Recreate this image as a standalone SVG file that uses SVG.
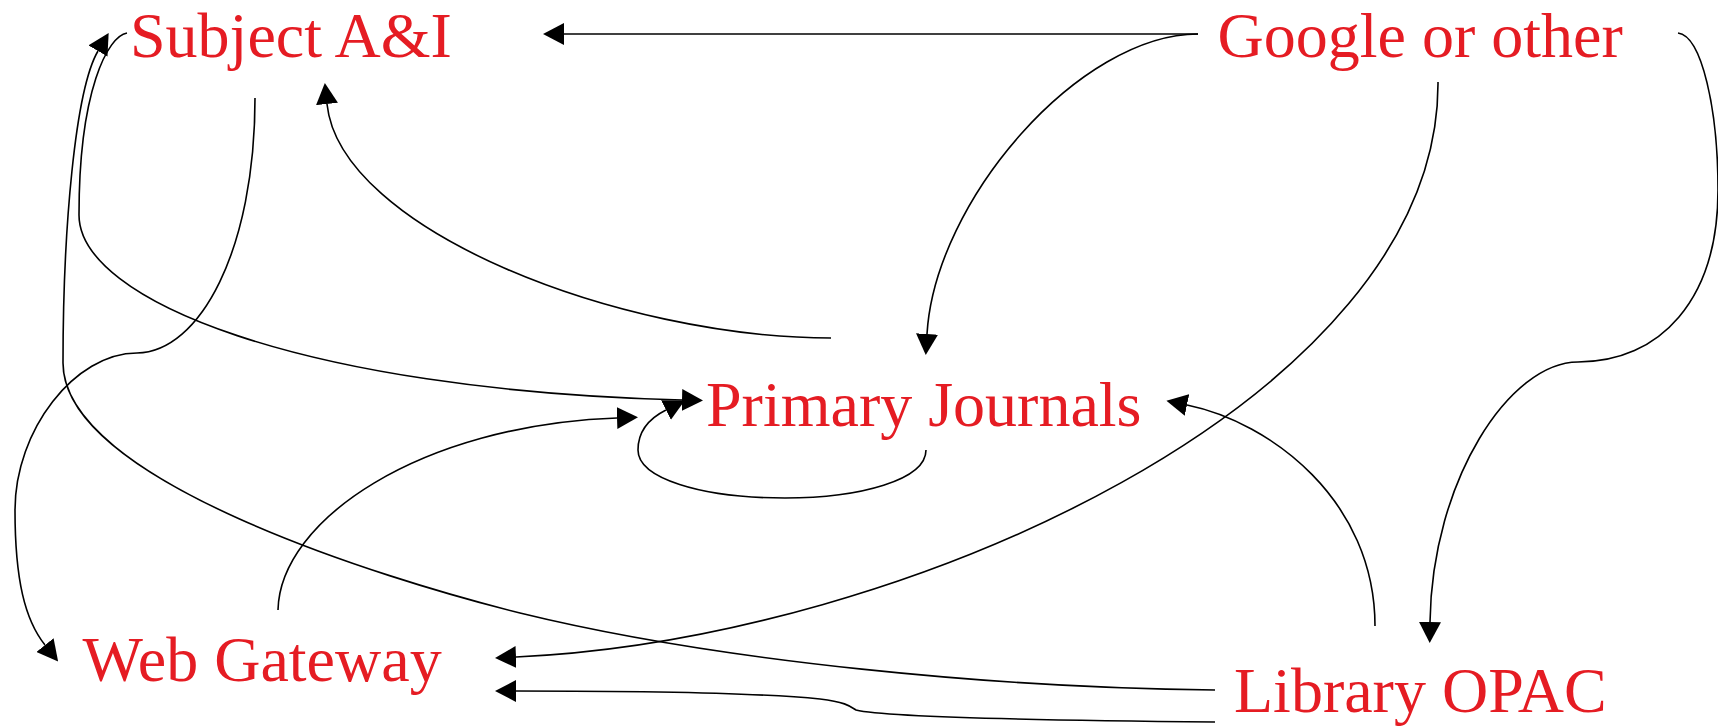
<svg xmlns="http://www.w3.org/2000/svg" width="1718" height="726" viewBox="0 0 1718 726">
<style>
.lbl{font-family:"Liberation Serif","Times New Roman",serif;font-size:64px;fill:#e51c23}
.c{fill:none;stroke:#000;stroke-width:1.6;marker-end:url(#arr)}
</style>
<defs>
<marker id="arr" viewBox="0 0 21 22" markerWidth="21" markerHeight="22" refX="0" refY="11" markerUnits="userSpaceOnUse" orient="auto">
<path d="M0,0 L21,11 L0,22 z" fill="#000"/>
</marker>
</defs>
<rect width="1718" height="726" fill="#fff"/>
<g id="connectors">
<path id="google-subject" class="c" d="M1198,34 L564,34"/>
<path id="google-primary" class="c" d="M1198,34 C1080,34 935,200 927,334"/>
<path id="google-web" class="c" d="M1438,82 C1440,400 900,640 516,657"/>
<path id="google-library" class="c" d="M1678,33 C1702,36 1718,110 1718,190 C1718,300 1660,362 1578,362 C1510,362 1432,480 1430,622"/>
<path id="subject-web" class="c" d="M255,98 C255,250 200,352 137,353 C75,353 15,430 15,510 C15,580 25,620 45,645"/>
<path id="primary-subject" class="c" d="M831,338 C620,338 340,230 327,104"/>
<path id="subject-primary" class="c" d="M127,33 C108,36 79,90 79,215 C79,300 300,390 682,400"/>
<path id="library-subject" class="c" d="M1215,690 C1000,688 720,662 520,613 C380,578 63,480 63,363 C63,230 75,90 98,51"/>
<path id="web-primary" class="c" d="M278,610 C280,520 420,425 617,418"/>
<path id="primary-self" class="c" d="M926,450 C926,480 860,498 785,498 C700,498 638,478 638,450 C638,430 650,418 666,410"/>
<path id="library-primary" class="c" d="M1375,626 C1375,500 1270,422 1187,405"/>
<path id="library-web" class="c" d="M1215,722 C1000,720 880,716 856,710 C850,706 845,702 820,699 C760,693 620,691 516,691"/>
</g>
<g id="node-subject"><text class="lbl" x="130" y="57">Subject A&amp;I</text></g>
<g id="node-google"><text class="lbl" x="1217.5" y="57">Google or other</text></g>
<g id="node-primary"><text class="lbl" x="706" y="426">Primary Journals</text></g>
<g id="node-web"><text class="lbl" x="82.5" y="681">Web Gateway</text></g>
<g id="node-library"><text class="lbl" x="1234" y="712">Library OPAC</text></g>
</svg>
